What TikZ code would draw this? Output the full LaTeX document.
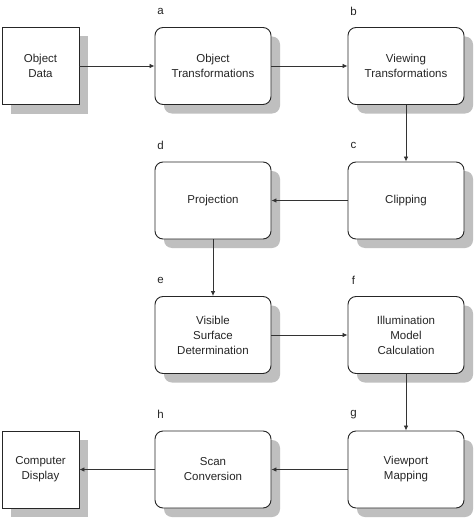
\documentclass[tikz,border=0pt]{standalone}
\usepackage{fontspec}
\setmainfont{Liberation Sans}
\usetikzlibrary{shadows,calc,arrows.meta}
\begin{document}
\begin{tikzpicture}[x=1pt,y=-1pt,
  txt/.style={font=\fontsize{11.5}{15}\selectfont, text=black!85, align=center},
  box/.style={txt, draw=black!85, line width=0.9pt, fill=white,
    minimum width=116pt, minimum height=77pt, inner sep=0pt, rounded corners=8pt,
    drop shadow={shadow xshift=9pt, shadow yshift=-9pt, fill=black!25, opacity=1}},
  sqbox/.style={box, rounded corners=0pt, minimum width=77pt},
  lab/.style={font=\fontsize{11.5}{14}\selectfont, text=black!85, inner sep=0pt},
  arr/.style={draw=black!80, line width=0.8pt, -{Latex[length=5pt,width=4.5pt]}}]
\useasboundingbox[fill=white] (0,0) rectangle (474,519);
\node[sqbox] (od) at (40.5,66) {Object\\Data};
\node[box] (a) at (213,66) {Object\\Transformations};
\node[box] (b) at (406,66) {Viewing\\Transformations};
\node[box] (c) at (406,200.5) {Clipping};
\node[box] (d) at (213,200.5) {Projection};
\node[box] (e) at (213,335) {Visible\\Surface\\Determination};
\node[box] (f) at (406,335) {Illumination\\Model\\Calculation};
\node[box] (g) at (406,469.5) {Viewport\\Mapping};
\node[box] (h) at (213,469.5) {Scan\\Conversion};
\node[sqbox] (cd) at (40.5,469.5) {Computer\\Display};
\foreach \n in {a,b,c,d,e,f,g,h}
  \node[lab] (l\n) at ($(\n.north west)+(6,-16)$) {\n};
\draw[arr] (od) -- (a);
\draw[arr] (a) -- (b);
\draw[arr] (b) -- (c);
\draw[arr] (c) -- (d);
\draw[arr] (d) -- (e);
\draw[arr] (e) -- (f);
\draw[arr] (f) -- (g);
\draw[arr] (g) -- (h);
\draw[arr] (h) -- (cd);
\end{tikzpicture}
\end{document}
